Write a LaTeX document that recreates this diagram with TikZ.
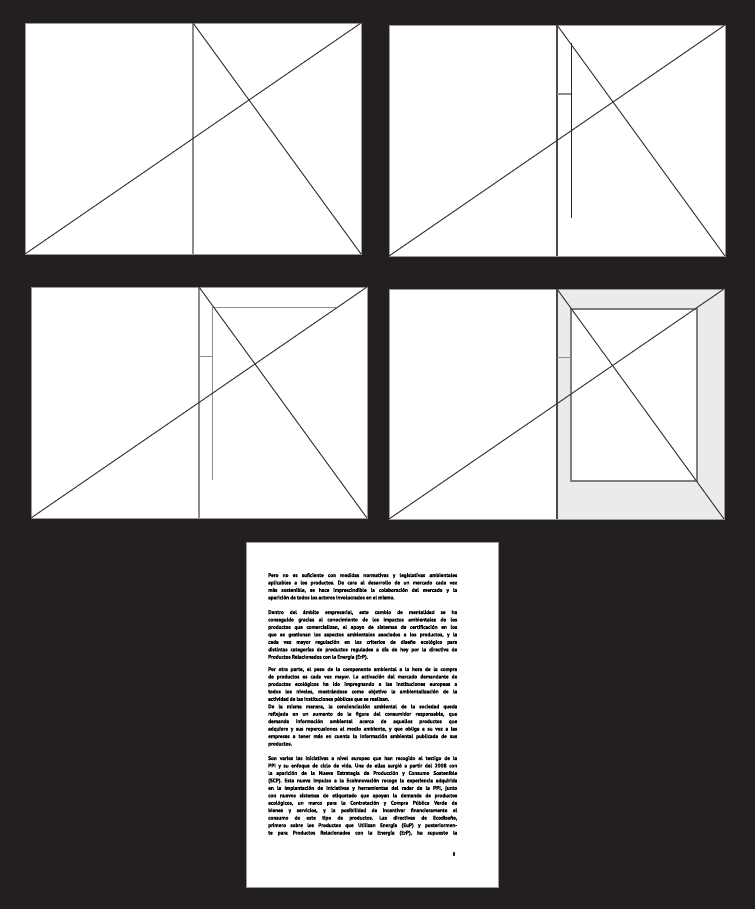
\documentclass[tikz,border=0pt]{standalone}
\usepackage{fontspec}
\newfontfamily\bodyfont{PT Sans}[BoldFeatures={FakeBold=1.2}]
\definecolor{bgdark}{HTML}{231F20}
\definecolor{diagc}{HTML}{3A3A3A}
\definecolor{guidec}{HTML}{8C8C8C}
\definecolor{darkguide}{HTML}{4A4A4A}
\definecolor{lightgrayfill}{HTML}{EBEBEB}
\definecolor{framec}{HTML}{9A9A9A}
\newcommand{\parafont}{\bodyfont\bfseries\fontsize{5.3}{7.45}\selectfont\frenchspacing
  \spaceskip=0.22em plus 1em minus 0.1em\hyphenpenalty=10000\tolerance=10000\hbadness=10000}
\tikzset{
  panel/.style={fill=white, draw=framec, line width=0.7pt},
  diag/.style={draw=diagc, line width=1pt},
  guide/.style={draw=guidec, line width=1.5pt},
  darkline/.style={draw=darkguide, line width=1.2pt},
  blackline/.style={draw=black!85, line width=1pt},
  para/.style={anchor=base west, inner sep=0pt, text width=189pt, align=justify,
    font=\parafont},
}
\begin{document}
\begin{tikzpicture}[x=1pt,y=-1pt]
\useasboundingbox (0,0) rectangle (755,909);
\fill[bgdark] (0,0) rectangle (755,909);

% ---------- Panel 1 ----------
\coordinate (a-tl) at (25,23); \coordinate (a-br) at (361,254);
\coordinate (a-bl) at (25,254); \coordinate (a-tr) at (361,23);
\coordinate (a-vt) at (193,23); \coordinate (a-vb) at (193,254);
\draw[panel] (a-tl) rectangle (a-br);
\draw[guide] (a-vt) -- (a-vb);
\draw[diag] (a-bl) -- (a-tr);
\draw[diag] (a-vt) -- (a-br);

% ---------- Panel 2 ----------
\coordinate (b-tl) at (389,25); \coordinate (b-br) at (725,256);
\coordinate (b-bl) at (389,256); \coordinate (b-tr) at (725,25);
\coordinate (b-vt) at (557,25); \coordinate (b-vb) at (557,256);
\coordinate (b-it) at (571,43); \coordinate (b-ib) at (571,218);
\coordinate (b-hl) at (557,94); \coordinate (b-hr) at (571,94);
\draw[panel] (b-tl) rectangle (b-br);
\draw[darkline] (b-vt) -- (b-vb);
\draw[draw=guidec, line width=1.2pt] (b-hl) -- (b-hr);
\draw[blackline] (b-it) -- (b-ib);
\draw[diag] (b-bl) -- (b-tr);
\draw[diag] (b-vt) -- (b-br);

% ---------- Panel 3 ----------
\coordinate (c-tl) at (31,287); \coordinate (c-br) at (367,518);
\coordinate (c-bl) at (31,518); \coordinate (c-tr) at (367,287);
\coordinate (c-vt) at (199,287); \coordinate (c-vb) at (199,518);
\coordinate (c-ir) at (336,307.7); \coordinate (c-ic) at (212.7,307.7);
\coordinate (c-ib) at (212.7,480);
\coordinate (c-hl) at (199,356.7); \coordinate (c-hr) at (212.7,356.7);
\draw[panel] (c-tl) rectangle (c-br);
\draw[guide] (c-vt) -- (c-vb);
\draw[guide] (c-ir) -- (c-ic) -- (c-ib);
\draw[guide] (c-hl) -- (c-hr);
\draw[diag] (c-bl) -- (c-tr);
\draw[diag] (c-vt) -- (c-br);

% ---------- Panel 4 ----------
\coordinate (d-tl) at (389,289); \coordinate (d-br) at (724,519);
\coordinate (d-bl) at (389,519); \coordinate (d-tr) at (724,289);
\coordinate (d-vt) at (557,289); \coordinate (d-vb) at (557,519);
\coordinate (d-itl) at (571,309); \coordinate (d-ibr) at (697,481);
\coordinate (d-hl) at (557,357.7); \coordinate (d-hr) at (571,357.7);
\draw[panel] (d-tl) rectangle (d-br);
\fill[lightgrayfill] (d-vt) rectangle (d-br);
\draw[framec, line width=0.7pt] (d-tl) rectangle (d-br);
\draw[fill=white, draw=guidec!90!black, line width=1.5pt] (d-itl) rectangle (d-ibr);
\draw[darkline] (d-vt) -- (d-vb);
\draw[guide] (d-hl) -- (d-hr);
\draw[diag] (d-bl) -- (d-tr);
\draw[diag] (d-vt) -- (d-br);

% ---------- Text page ----------
\draw[fill=white, draw=framec, line width=0.8pt] (246,542) rectangle (498,887);

\node[para] (p1) at (268,577) {%
Pero no es suficiente con medidas normativas y legislativas ambientales\linebreak
aplicables a los productos. De cara al desarrollo de un mercado cada vez\linebreak
más sostenible, se hace imprescindible la colaboración del mercado y la\linebreak
aparición de todos los actores involucrados en el mismo.};

\node[para] (p2) at (268,614) {%
Dentro del ámbito empresarial, este cambio de mentalidad se ha\linebreak
conseguido gracias al conocimiento de los impactos ambientales de los\linebreak
productos que comercializan, el apoyo de sistemas de certificación en los\linebreak
que se gestionan los aspectos ambientales asociados a los productos, y la\linebreak
cada vez mayor regulación en los criterios de diseño ecológico para\linebreak
distintas categorías de productos regulados a día de hoy por la directiva de\linebreak
Productos Relacionados con la Energía (ErP).};

\node[para] (p3) at (268,671) {%
Por otra parte, el peso de la componente ambiental a la hora de la compra\linebreak
de productos es cada vez mayor. La activación del mercado demandante de\linebreak
productos ecológicos ha ido impregnando a las instituciones europeas a\linebreak
todos los niveles, mostrándose como objetivo la ambientalización de la\linebreak
actividad de las instituciones públicas que se realizan.\par
De la misma manera, la concienciación ambiental de la sociedad queda\linebreak
reflejada en un aumento de la figura del consumidor responsable, que\linebreak
demanda información ambiental acerca de aquellos productos que\linebreak
adquiere y sus repercusiones al medio ambiente, y que obliga a su vez a las\linebreak
empresas a tener más en cuenta la información ambiental publicada de sus\linebreak
productos.};

\node[para] (p4) at (268,760) {%
Son varias las iniciativas a nivel europeo que han recogido el testigo de la\linebreak
PPI y su enfoque de ciclo de vida. Una de ellas surgió a partir del 2008 con\linebreak
la aparición de la Nueva Estrategia de Producción y Consumo Sostenible\linebreak
(SCP). Esta nueva impulso a la Ecoinnovación recoge la experiencia adquirida\linebreak
en la implantación de iniciativas y herramientas del radar de la PPI, junto\linebreak
con nuevos sistemas de etiquetado que apoyan la demanda de productos\linebreak
ecológicos, un marco para la Contratación y Compra Pública Verde de\linebreak
bienes y servicios, y la posibilidad de incentivar financieramente el\linebreak
consumo de este tipo de productos. Las directivas de Ecodiseño,\linebreak
primero sobre los Productos que Utilizan Energía (EuP) y posteriormen-\linebreak
te para Productos Relacionados con la Energía (ErP), ha supuesto la\linebreak};

\node[inner sep=0pt, font=\bodyfont\bfseries\fontsize{4.5}{5}\selectfont] (pnum) at (454,854) {8};
\end{tikzpicture}
\end{document}
